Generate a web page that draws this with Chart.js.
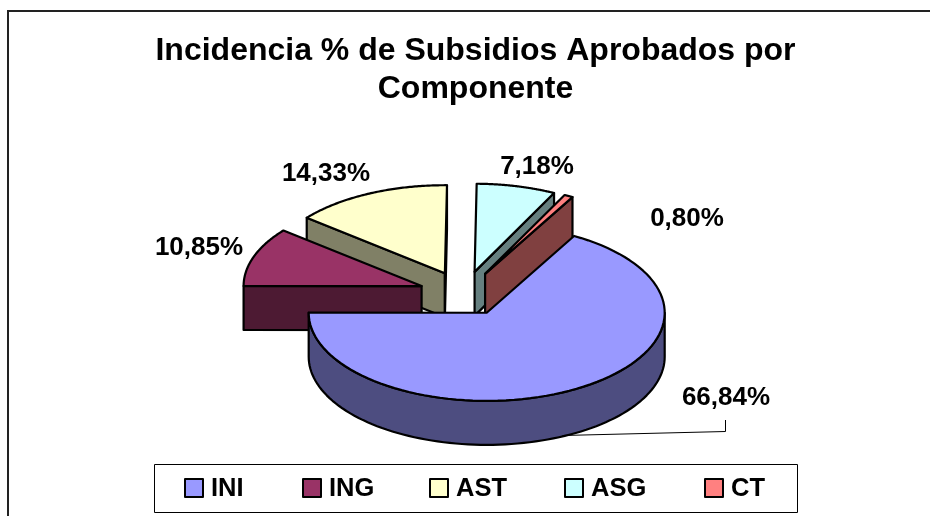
<!DOCTYPE html>
<html>
<head>
<meta charset="utf-8">
<style>body { margin: 0; background: #fff; } canvas { display: block; }</style>
<script src="https://cdn.jsdelivr.net/npm/chart.js@4"></script>
</head>
<body>
<canvas id="pie" width="930" height="516"></canvas>
<script>
const categories = ["INI", "ING", "AST", "ASG", "CT"];
const values = [66.84, 10.85, 14.33, 7.18, 0.80];
const topColors = ["#9999ff", "#993366", "#ffffcc", "#ccffff", "#ff8080"];
const sideColors = ["#4d4d80", "#4d1a33", "#808066", "#668080", "#804040"];
const titleLines = ["Incidencia % de Subsidios Aprobados por", "Componente"];

// vista 3D: centro de la torta en pantalla, aplastamiento, altura y explosión
const CX = 464, CY = 293.5, K = 0.495, DEPTH = 44, EXPLODE = 45;
const labelAt = [[726, 398], [199, 248], [326, 174], [537, 167], [687, 219]]; // centro de cada rótulo
const legendBox = { l: 154, t: 464, r: 797, b: 512 };
const legendX = [185, 303, 430, 565, 705];
const paintOrder = [2, 3, 4, 1, 0]; // de atrás hacia adelante

const fmt = (v) => v.toFixed(2).replace(".", ",") + "%";

function pt(el, ang, r) {
  const mid = (el.startAngle + el.endAngle) / 2;
  return [CX + Math.cos(mid) * EXPLODE + Math.cos(ang) * r, CY + K * (Math.sin(mid) * EXPLODE + Math.sin(ang) * r)];
}
function poly(ctx, pts, fill) {
  ctx.beginPath();
  pts.forEach((p, i) => (i ? ctx.lineTo(p[0], p[1]) : ctx.moveTo(p[0], p[1])));
  ctx.closePath();
  if (fill) { ctx.fillStyle = fill; ctx.fill(); }
  ctx.stroke();
}
const down = (p) => [p[0], p[1] + DEPTH];

function drawSlice(ctx, el, i) {
  const a0 = el.startAngle, a1 = el.endAngle, R = el.outerRadius, V = pt(el, 0, 0), mid = (a0 + a1) / 2;
  ctx.lineWidth = 2.2; ctx.strokeStyle = "#000"; ctx.lineJoin = "round";
  // paredes radiales que miran al frente
  [[a0, Math.cos(a0) < 0], [a1, Math.cos(a1) > 0]].forEach(([a, vis]) => {
    if (!vis) return;
    const P = pt(el, a, R);
    poly(ctx, [V, P, down(P), down(V)], sideColors[i]);
  });
  // pared exterior, sólo la mitad de adelante
  const from = Math.max(a0, 0), to = Math.min(a1, Math.PI);
  if (to > from) {
    const arc = [];
    for (let n = 0; n <= 90; n++) arc.push(pt(el, from + (to - from) * n / 90, R));
    poly(ctx, arc.concat(arc.map(down).reverse()), sideColors[i]);
  }
  // cara superior con el ArcElement de Chart.js, aplastada y separada del centro
  ctx.save();
  ctx.translate(CX, CY); ctx.scale(1, K);
  ctx.translate(Math.cos(mid) * EXPLODE - el.x, Math.sin(mid) * EXPLODE - el.y);
  el.draw(ctx);
  ctx.restore();
  const edge = [V];
  for (let n = 0; n <= 90; n++) edge.push(pt(el, a0 + (a1 - a0) * n / 90, R));
  poly(ctx, edge);
}

const pie3d = {
  id: "pie3d",
  beforeDraw(chart) {
    const c = chart.ctx;
    c.save();
    c.strokeStyle = "#222"; c.lineWidth = 2;
    c.beginPath(); c.moveTo(8, 516); c.lineTo(8, 11); c.lineTo(930, 11); c.stroke();
    c.restore();
  },
  beforeDatasetsDraw(chart) {
    const els = chart.getDatasetMeta(0).data;
    paintOrder.forEach((i) => drawSlice(chart.ctx, els[i], i));
    return false;
  },
  afterDraw(chart) {
    const c = chart.ctx;
    c.save();
    c.fillStyle = "#000"; c.textBaseline = "middle"; c.textAlign = "center";
    c.font = "bold 26px 'Liberation Sans', Arial, sans-serif";
    values.forEach((v, i) => c.fillText(fmt(v), labelAt[i][0], labelAt[i][1]));
    // línea guía del rótulo mayor
    c.strokeStyle = "#000"; c.lineWidth = 1;
    c.beginPath(); c.moveTo(562.5, 435.5); c.lineTo(725.5, 431.5); c.lineTo(725.5, 420); c.stroke();
    // leyenda con recuadro
    c.strokeRect(legendBox.l + 0.5, legendBox.t + 0.5, legendBox.r - legendBox.l, legendBox.b - legendBox.t);
    c.textAlign = "left"; c.font = "bold 25.5px 'Liberation Sans', Arial, sans-serif";
    const my = (legendBox.t + legendBox.b) / 2;
    categories.forEach((name, i) => {
      c.fillStyle = topColors[i]; c.lineWidth = 2;
      c.fillRect(legendX[i], my - 9, 18, 18); c.strokeRect(legendX[i], my - 9, 18, 18);
      c.fillStyle = "#000";
      c.fillText(name, legendX[i] + 26, my + 1);
    });
    c.restore();
  }
};

new Chart(document.getElementById("pie"), {
  type: "pie",
  data: { labels: categories, datasets: [{ data: values, backgroundColor: topColors, borderWidth: 0 }] },
  options: {
    responsive: false, animation: false, radius: 178, rotation: 29.4,
    layout: { padding: { left: 21, right: 0, top: 32 } },
    plugins: {
      legend: { display: false }, tooltip: { enabled: false },
      title: { display: true, text: titleLines, color: "#000", padding: 0,
        font: { family: "'Liberation Sans', Arial, sans-serif", size: 32, weight: "bold", lineHeight: 1.19 } }
    }
  },
  plugins: [pie3d]
});
</script>
</body>
</html>
